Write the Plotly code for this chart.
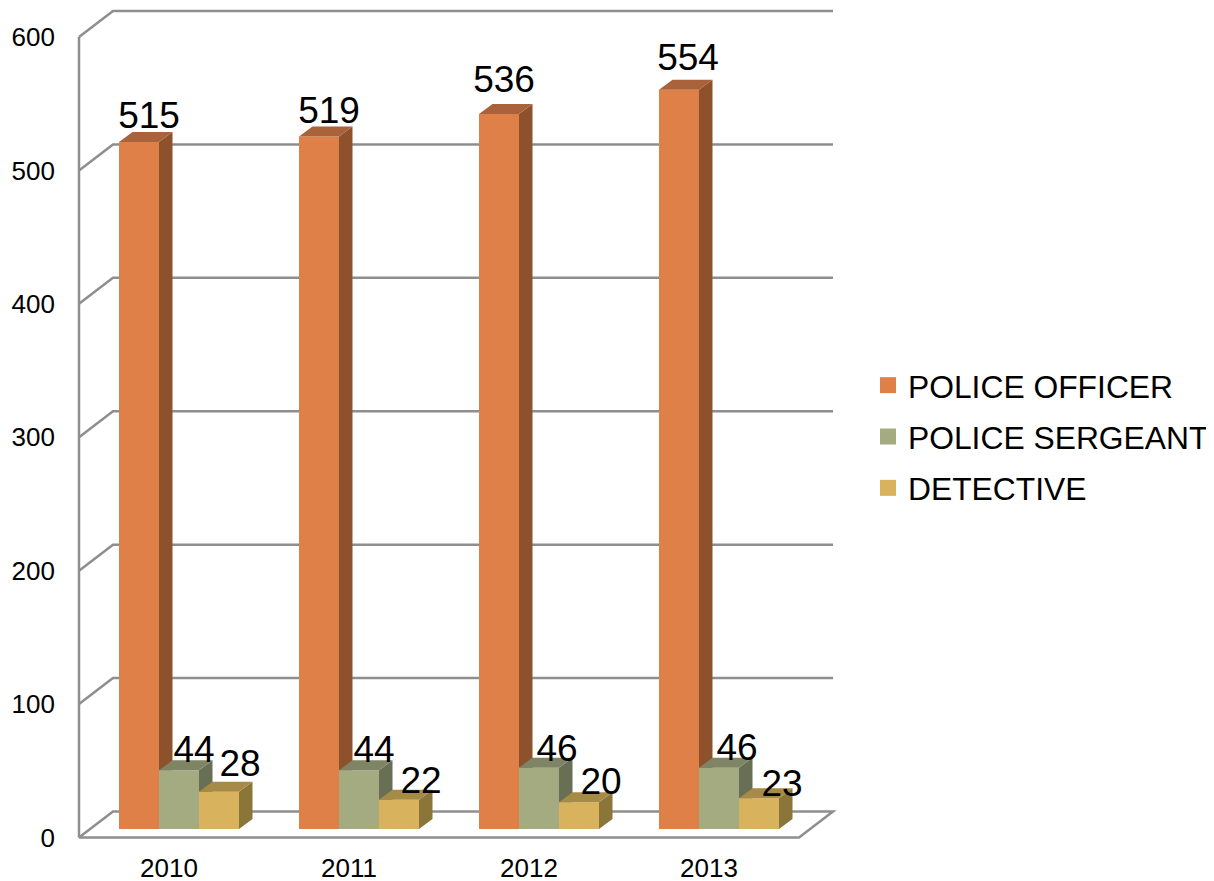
import plotly.graph_objects as go

# ---- data ----
years = ["2010", "2011", "2012", "2013"]
police_officer = [515, 519, 536, 554]
police_sergeant = [44, 44, 46, 46]
detective = [28, 22, 20, 23]
y_ticks = [0, 100, 200, 300, 400, 500, 600]

# ---- scales (pixels per axis unit) ----
PAGE = 8                    # the page's own margin round the figure
PX_X = 180.0                # pixels per category
PX_Y = 800.5 / 600.0        # pixels per value unit
FLOOR_PX = 837.5 - PAGE     # figure y of value 0 on the front plane
LEFT_PX = 79.0 - PAGE       # figure x of the left of category band 0
PLOT_L, PLOT_R, PLOT_T, PLOT_B = 62, 837, 0, 840
FIG_W, FIG_H = 1214, 881


def dx(px):
    return px / PX_X


def dy(px):
    return px / PX_Y


X_MIN = -0.5 - dx(LEFT_PX - PLOT_L)
X_MAX = X_MIN + dx(PLOT_R - PLOT_L)
Y_MIN = -dy(PLOT_B - FLOOR_PX)
Y_MAX = dy(FLOOR_PX - PLOT_T)

WALL_DX, WALL_DY = dx(34), dy(26)       # floor depth
BAR_DX, BAR_DY = dx(13.5), dy(10)       # bar depth
BAR_W = dx(40)
GROUP_SHIFT = dx(10)
BASE = dy(8.5)                          # bars stand a little way back on the floor
GRID = "#8e8e8e"

series = [
    dict(name="POLICE OFFICER", vals=police_officer, off=-1, front="#DE8047", side="#8D522B", top="#A9623A",
         lab_dx=[10, 10, 5, 9], lab_dy=[23, 23, 31, 29]),
    dict(name="POLICE SERGEANT", vals=police_sergeant, off=0, front="#A5AB81", side="#696F54", top="#7E8464",
         lab_dx=[15, 15, 18, 18], lab_dy=[18, 18, 16, 17]),
    dict(name="DETECTIVE", vals=detective, off=1, front="#D8B25C", side="#8B7639", top="#A68B46",
         lab_dx=[21, 22, 22, 23], lab_dy=[25, 16, 18, 12]),
]

fig = go.Figure()

# front faces
xs_all = list(range(len(years)))
for s in series:
    fig.add_trace(go.Bar(
        x=[i + GROUP_SHIFT + s["off"] * BAR_W for i in xs_all],
        y=s["vals"], base=BASE, width=BAR_W,
        marker=dict(color=s["front"], line=dict(width=0)),
        showlegend=False, name=s["name"],
    ))

# side and top faces: the side is cut where the next bar's front covers it
for k, s in enumerate(series):
    side_x, side_y, top_x, top_y = [], [], [], []
    for i, v in enumerate(s["vals"]):
        x0 = i + GROUP_SHIFT + s["off"] * BAR_W - BAR_W / 2
        x1 = x0 + BAR_W
        t = BASE + v
        if k + 1 < len(series):
            low = BASE + series[k + 1]["vals"][i]
            side_x += [x1, x1 + BAR_DX, x1 + BAR_DX, x1, None]
            side_y += [t, t + BAR_DY, low, low, None]
        else:
            side_x += [x1, x1 + BAR_DX, x1 + BAR_DX, x1, None]
            side_y += [t, t + BAR_DY, BASE + BAR_DY, BASE, None]
        top_x += [x0, x0 + BAR_DX, x1 + BAR_DX, x1, None]
        top_y += [t, t + BAR_DY, t + BAR_DY, t, None]
    for px, py, col in ((side_x, side_y, s["side"]), (top_x, top_y, s["top"])):
        fig.add_trace(go.Scatter(
            x=px, y=py, mode="lines", fill="toself", fillcolor=col,
            line=dict(width=0), hoverinfo="skip", showlegend=False,
        ))

# data labels
for s in series:
    fig.add_trace(go.Scatter(
        x=[i + GROUP_SHIFT + s["off"] * BAR_W + dx(s["lab_dx"][i]) for i in xs_all],
        y=[BASE + v + dy(s["lab_dy"][i]) for i, v in enumerate(s["vals"])],
        mode="text", text=[str(v) for v in s["vals"]], textposition="middle center",
        textfont=dict(size=37, color="black", family="Liberation Sans, Arial, sans-serif"),
        hoverinfo="skip", showlegend=False, cliponaxis=False,
    ))

# legend entries
for s in series:
    fig.add_trace(go.Scatter(
        x=[None], y=[None], mode="markers", name=s["name"], legendgroup=s["name"],
        marker=dict(symbol="square", size=18, color=s["front"], line=dict(width=0)),
    ))

# walls and floor
line = dict(color=GRID, width=2.5)
shapes = []
x_left = -0.5
x_right = len(years) - 0.5
for v in y_ticks:
    pts = [(x_left, v), (x_left + WALL_DX, v + WALL_DY), (x_right + WALL_DX, v + WALL_DY)]
    if v == 0:
        pts.append((x_right, v))
        pts.append((x_left, v))
    path = "M " + " L ".join(f"{a},{b}" for a, b in pts)
    shapes.append(dict(type="path", path=path, line=line, layer="below", xref="x", yref="y"))
shapes.append(dict(type="line", x0=x_left, x1=x_left, y0=0, y1=y_ticks[-1],
                   line=line, layer="below", xref="x", yref="y"))

fig.update_layout(
    width=FIG_W, height=FIG_H, autosize=False,
    margin=dict(l=PLOT_L, r=FIG_W - PLOT_R, t=PLOT_T, b=FIG_H - PLOT_B, autoexpand=False),
    paper_bgcolor="white", plot_bgcolor="white",
    barmode="overlay", shapes=shapes,
    font=dict(family="Liberation Sans, Arial, sans-serif", color="black"),
    xaxis=dict(range=[X_MIN, X_MAX], tickmode="array", tickvals=xs_all, ticktext=years,
               showgrid=False, zeroline=False, showline=False, ticks="",
               tickfont=dict(size=26), ticklabelstandoff=2),
    yaxis=dict(range=[Y_MIN, Y_MAX], tickmode="array", tickvals=y_ticks,
               showgrid=False, zeroline=False, showline=False, ticks="",
               tickfont=dict(size=26), ticklabelstandoff=14),
    legend=dict(x=(868 - PAGE - PLOT_L) / (PLOT_R - PLOT_L), xanchor="left",
                y=1 - (358 - PAGE - PLOT_T) / (PLOT_B - PLOT_T), yanchor="top",
                font=dict(size=31.8), tracegroupgap=7, itemwidth=30,
                entrywidth=310, entrywidthmode="pixels",
                bgcolor="rgba(0,0,0,0)", borderwidth=0),
    showlegend=True,
)

fig.write_html("out.html")
